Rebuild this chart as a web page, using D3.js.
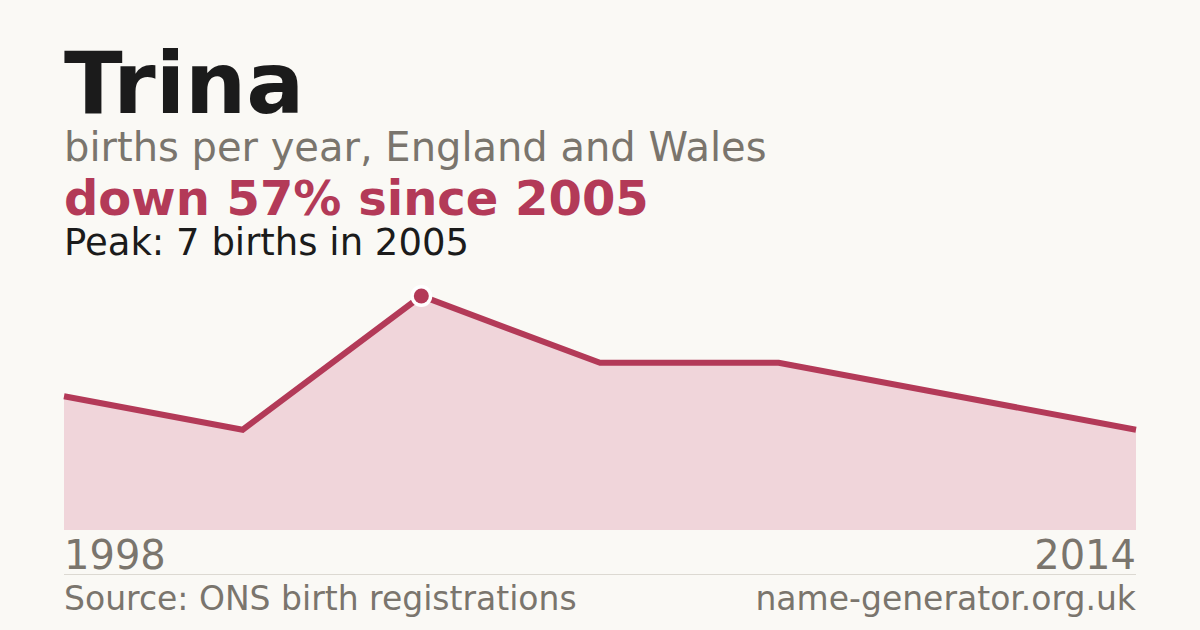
<!DOCTYPE html>
<html>
<head>
<meta charset="utf-8">
<script src="https://cdn.jsdelivr.net/npm/d3@7"></script>
<style>
  html, body { margin: 0; padding: 0; background: #faf9f5; }
  svg { display: block; }
</style>
</head>
<body>
<div id="chart"></div>
<script>
const years = [1998, 2001, 2005, 2008, 2010, 2012, 2014];
const births = [4, 3, 7, 5, 5, 4, 3];
const peakYear = 2005;
const peakValue = 7;
const axisLabels = ["1998", "2014"];

const W = 1200, H = 630;
const plotLeft = 64, plotRight = 1136, plotTop = 296, plotBase = 530;

const svg = d3.select("#chart").append("svg")
  .attr("width", W)
  .attr("height", H)
  .style("font-family", "'DejaVu Sans', sans-serif");

svg.append("rect").attr("width", W).attr("height", H).attr("fill", "#faf9f5");

// Header text
svg.append("text")
  .attr("x", plotLeft).attr("y", 113)
  .style("font-size", "86px").style("font-weight", "bold")
  .style("fill", "#1b1b1b")
  .text("Trina");

svg.append("text")
  .attr("x", plotLeft).attr("y", 161)
  .style("font-size", "40px")
  .style("fill", "#7a756d")
  .text("births per year, England and Wales");

svg.append("text")
  .attr("x", plotLeft).attr("y", 215)
  .style("font-size", "48px").style("font-weight", "bold")
  .style("fill", "#b33a58")
  .text("down 57% since 2005");

svg.append("text")
  .attr("x", plotLeft).attr("y", 255)
  .style("font-size", "37px")
  .style("fill", "#1b1b1b")
  .text(`Peak: ${peakValue} births in ${peakYear}`);

// Scales
const x = d3.scalePoint().domain(years).range([plotLeft, plotRight]);
const y = d3.scaleLinear().domain([0, d3.max(births)]).range([plotBase, plotTop]);

const data = years.map((yr, i) => ({ year: yr, value: births[i] }));

// Area
svg.append("path")
  .datum(data)
  .attr("fill", "#f0d5da")
  .attr("d", d3.area().x(d => x(d.year)).y0(plotBase).y1(d => y(d.value)));

// Line
svg.append("path")
  .datum(data)
  .attr("fill", "none")
  .attr("stroke", "#b33a58")
  .attr("stroke-width", 6)
  .attr("d", d3.line().x(d => x(d.year)).y(d => y(d.value)));

// Peak marker: white halo, then dot
const peak = data.find(d => d.year === peakYear);
svg.append("circle")
  .attr("cx", x(peak.year))
  .attr("cy", y(peak.value))
  .attr("r", 11)
  .attr("fill", "#ffffff");
svg.append("circle")
  .attr("cx", x(peak.year))
  .attr("cy", y(peak.value))
  .attr("r", 7.5)
  .attr("fill", "#b33a58");

// Axis end labels
svg.append("text")
  .attr("x", plotLeft).attr("y", 569)
  .style("font-size", "40px")
  .style("fill", "#7a756d")
  .text(axisLabels[0]);

svg.append("text")
  .attr("x", plotRight).attr("y", 569)
  .attr("text-anchor", "end")
  .style("font-size", "40px")
  .style("fill", "#7a756d")
  .text(axisLabels[1]);

// Rule
svg.append("line")
  .attr("x1", plotLeft).attr("x2", plotRight)
  .attr("y1", 574.5).attr("y2", 574.5)
  .attr("stroke", "#dcd9d2")
  .attr("stroke-width", 1);

// Footer
svg.append("text")
  .attr("x", plotLeft).attr("y", 610)
  .style("font-size", "33px")
  .style("fill", "#7a756d")
  .text("Source: ONS birth registrations");

svg.append("text")
  .attr("x", plotRight).attr("y", 610)
  .attr("text-anchor", "end")
  .style("font-size", "33px")
  .style("fill", "#7a756d")
  .text("name-generator.org.uk");
</script>
</body>
</html>
